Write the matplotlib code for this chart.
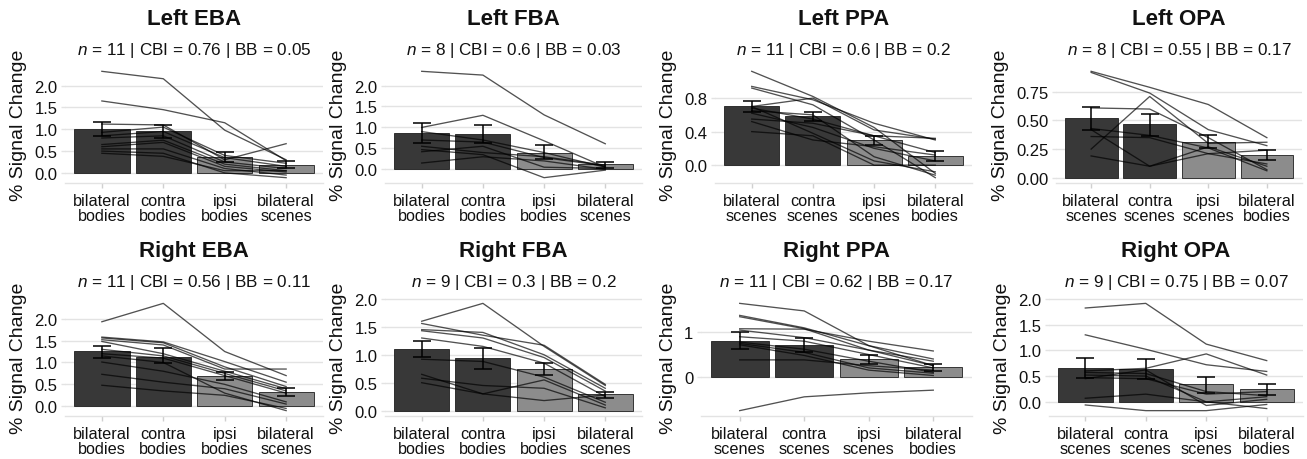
import numpy as np
import matplotlib
matplotlib.use("Agg")
import matplotlib.pyplot as plt

plt.rcParams['font.family'] = ['Liberation Sans', 'DejaVu Sans']
plt.rcParams['mathtext.fontset'] = 'custom'
plt.rcParams['mathtext.it'] = 'Liberation Sans:italic'
plt.rcParams['mathtext.rm'] = 'Liberation Sans'

# ---------------- data ----------------
titles = ["Left EBA", "Left FBA", "Left PPA", "Left OPA",
          "Right EBA", "Right FBA", "Right PPA", "Right OPA"]
n_subj = [11, 8, 11, 8, 11, 9, 11, 9]
cbi = ["0.76", "0.6", "0.6", "0.55", "0.56", "0.3", "0.62", "0.75"]
bb = ["0.05", "0.03", "0.2", "0.17", "0.11", "0.2", "0.17", "0.07"]

cats_bodies = ["bilateral\nbodies", "contra\nbodies", "ipsi\nbodies", "bilateral\nscenes"]
cats_scenes = ["bilateral\nscenes", "contra\nscenes", "ipsi\nscenes", "bilateral\nbodies"]
panel_cats = [cats_bodies, cats_bodies, cats_scenes, cats_scenes,
              cats_bodies, cats_bodies, cats_scenes, cats_scenes]

means_left_eba = [1.00, 0.96, 0.36, 0.19]
lo_left_eba = [0.85, 0.80, 0.24, 0.11]
hi_left_eba = [1.17, 1.11, 0.47, 0.27]
subj_left_eba = [
    [2.33, 2.16, 0.98, 0.30],
    [1.65, 1.45, 1.15, 0.28],
    [1.12, 1.10, 0.30, 0.67],
    [0.93, 1.05, 0.40, 0.22],
    [0.85, 0.95, 0.35, 0.15],
    [0.80, 0.85, 0.25, 0.10],
    [0.65, 0.75, 0.20, 0.05],
    [0.60, 0.70, 0.15, 0.02],
    [0.55, 0.55, 0.10, -0.05],
    [0.50, 0.45, 0.00, -0.11],
    [0.45, 0.38, 0.05, 0.05],
]

means_left_fba = [0.87, 0.85, 0.40, 0.12]
lo_left_fba = [0.64, 0.64, 0.24, 0.04]
hi_left_fba = [1.10, 1.06, 0.57, 0.18]
subj_left_fba = [
    [2.34, 2.25, 1.30, 0.61],
    [1.00, 1.29, 0.68, 0.05],
    [0.90, 0.70, 0.40, 0.05],
    [0.70, 0.65, 0.28, 0.08],
    [0.55, 0.40, 0.30, 0.10],
    [0.47, 0.35, -0.20, -0.02],
    [0.42, 0.55, 0.05, 0.02],
    [0.15, 0.30, 0.20, 0.00],
]

means_left_ppa = [0.71, 0.59, 0.305, 0.107]
lo_left_ppa = [0.64, 0.53, 0.245, 0.048]
hi_left_ppa = [0.77, 0.64, 0.345, 0.166]
subj_left_ppa = [
    [1.12, 0.82, 0.45, -0.10],
    [0.94, 0.78, 0.50, 0.30],
    [0.92, 0.72, 0.30, -0.15],
    [0.70, 0.80, 0.42, 0.31],
    [0.68, 0.55, 0.35, 0.32],
    [0.65, 0.60, 0.10, -0.12],
    [0.62, 0.45, 0.20, 0.05],
    [0.55, 0.50, 0.35, 0.15],
    [0.52, 0.30, 0.22, 0.12],
    [0.40, 0.35, 0.00, 0.00],
    [0.70, 0.38, 0.05, -0.08],
]

means_left_opa = [0.52, 0.47, 0.315, 0.20]
lo_left_opa = [0.42, 0.365, 0.26, 0.155]
hi_left_opa = [0.62, 0.56, 0.37, 0.24]
subj_left_opa = [
    [0.93, 0.79, 0.64, 0.35],
    [0.92, 0.74, 0.42, 0.28],
    [0.61, 0.60, 0.35, 0.07],
    [0.25, 0.71, 0.30, 0.31],
    [0.43, 0.37, 0.26, 0.06],
    [0.42, 0.10, 0.27, 0.10],
    [0.36, 0.35, 0.21, 0.12],
    [0.19, 0.10, 0.21, 0.24],
]

means_right_eba = [1.26, 1.13, 0.69, 0.32]
lo_right_eba = [1.11, 0.98, 0.60, 0.23]
hi_right_eba = [1.38, 1.32, 0.78, 0.415]
subj_right_eba = [
    [1.93, 2.35, 1.25, 0.70],
    [1.58, 1.47, 1.02, 0.55],
    [1.56, 1.45, 0.90, 0.45],
    [1.52, 1.40, 0.85, 0.85],
    [1.48, 1.20, 0.80, 0.40],
    [1.30, 1.15, 0.75, 0.35],
    [1.20, 1.10, 0.70, 0.30],
    [1.01, 0.80, 0.50, 0.10],
    [0.73, 0.55, 0.40, 0.05],
    [0.48, 0.35, 0.25, -0.05],
    [1.15, 1.00, 0.30, -0.10],
]

means_right_fba = [1.10, 0.94, 0.75, 0.29]
lo_right_fba = [0.955, 0.75, 0.63, 0.22]
hi_right_fba = [1.25, 1.13, 0.85, 0.33]
subj_right_fba = [
    [1.60, 1.92, 1.15, 0.45],
    [1.56, 1.35, 1.17, 0.47],
    [1.45, 1.40, 1.00, 0.40],
    [1.43, 1.30, 0.95, 0.35],
    [1.30, 1.15, 0.85, 0.25],
    [0.92, 0.88, 0.60, 0.15],
    [0.65, 0.30, 0.55, 0.10],
    [0.58, 0.45, 0.40, 0.05],
    [0.50, 0.30, 0.18, 0.28],
]

means_right_ppa = [0.81, 0.71, 0.40, 0.21]
lo_right_ppa = [0.62, 0.56, 0.29, 0.135]
hi_right_ppa = [1.01, 0.87, 0.49, 0.29]
subj_right_ppa = [
    [1.65, 1.48, 0.70, 0.25],
    [1.38, 1.10, 0.70, 0.40],
    [1.35, 1.08, 0.60, 0.25],
    [1.08, 1.07, 0.80, 0.58],
    [1.05, 0.88, 0.60, 0.35],
    [0.90, 0.80, 0.50, 0.20],
    [0.78, 0.62, 0.35, 0.10],
    [0.75, 0.55, 0.20, 0.08],
    [0.72, 0.48, 0.15, 0.03],
    [0.38, 0.38, 0.25, 0.15],
    [-0.76, -0.45, -0.36, -0.30],
]

means_right_opa = [0.66, 0.64, 0.34, 0.24]
lo_right_opa = [0.456, 0.44, 0.18, 0.13]
hi_right_opa = [0.86, 0.83, 0.49, 0.345]
subj_right_opa = [
    [1.82, 1.91, 1.12, 0.80],
    [1.30, 1.02, 0.72, 0.59],
    [0.60, 0.65, 0.93, 0.52],
    [0.57, 0.55, 0.20, 0.12],
    [0.52, 0.50, 0.00, -0.13],
    [0.47, 0.45, 0.15, 0.20],
    [0.45, 0.62, -0.07, 0.05],
    [0.07, 0.15, 0.00, 0.10],
    [-0.06, -0.17, -0.17, -0.05],
]

yticks_eba = [0.0, 0.5, 1.0, 1.5, 2.0]
yticklabels_eba = ["0.0", "0.5", "1.0", "1.5", "2.0"]
yticks_lppa = [0.0, 0.4, 0.8]
yticklabels_lppa = ["0.0", "0.4", "0.8"]
yticks_lopa = [0.0, 0.25, 0.5, 0.75]
yticklabels_lopa = ["0.00", "0.25", "0.50", "0.75"]
yticks_rppa = [0, 1]
yticklabels_rppa = ["0", "1"]

all_means = [means_left_eba, means_left_fba, means_left_ppa, means_left_opa,
             means_right_eba, means_right_fba, means_right_ppa, means_right_opa]
all_lo = [lo_left_eba, lo_left_fba, lo_left_ppa, lo_left_opa,
          lo_right_eba, lo_right_fba, lo_right_ppa, lo_right_opa]
all_hi = [hi_left_eba, hi_left_fba, hi_left_ppa, hi_left_opa,
          hi_right_eba, hi_right_fba, hi_right_ppa, hi_right_opa]
all_subj = [subj_left_eba, subj_left_fba, subj_left_ppa, subj_left_opa,
            subj_right_eba, subj_right_fba, subj_right_ppa, subj_right_opa]
all_yticks = [yticks_eba, yticks_eba, yticks_lppa, yticks_lopa,
              yticks_eba, yticks_eba, yticks_rppa, yticks_eba]
all_yticklabels = [yticklabels_eba, yticklabels_eba, yticklabels_lppa, yticklabels_lopa,
                   yticklabels_eba, yticklabels_eba, yticklabels_rppa, yticklabels_eba]

# ---------------- layout / style ----------------
W, H = 1307, 460
fig = plt.figure(figsize=(W / 100, H / 100), dpi=100)
# panel pixel boxes: (left, right, top, bottom)
boxes = [(65, 323, 67, 184), (385, 642, 67, 184), (715, 972, 67, 184), (1056, 1302, 67, 184),
         (65, 323, 299, 417), (385, 642, 299, 417), (701, 972, 299, 417), (1049, 1303, 299, 417)]

dark = "#383838"
light = "#8c8c8c"
grid_c = "#e3e3e3"
bar_colors = [dark, dark, light, light]

for i in range(8):
    l, r, t, b = boxes[i]
    ax = fig.add_axes([l / W, 1 - b / H, (r - l) / W, (b - t) / H])
    x = np.arange(1, 5)
    means = np.array(all_means[i])
    lo = np.array(all_lo[i])
    hi = np.array(all_hi[i])
    subj = np.array(all_subj[i])

    ax.bar(x, means, width=0.9, color=bar_colors, edgecolor="#1e1e1e",
           linewidth=0.6, zorder=2)
    for row in subj:
        ax.plot(x, row, color="black", alpha=0.68, lw=0.95, zorder=3)
    ax.errorbar(x, means, yerr=[means - lo, hi - means], fmt="none",
                ecolor="black", elinewidth=1.1, capsize=6.5, capthick=1.1, zorder=4)

    dmin = min(subj.min(), lo.min(), 0)
    dmax = max(subj.max(), hi.max(), means.max())
    pad = 0.05 * (dmax - dmin)
    ax.set_ylim(dmin - pad, dmax + pad)
    ax.set_xlim(0.4, 4.6)

    ax.set_yticks(all_yticks[i])
    ax.set_yticklabels(all_yticklabels[i])
    ax.set_xticks(x)
    ax.set_xticklabels(panel_cats[i])
    for lab in ax.get_xticklabels():
        lab.set_linespacing(1.0)

    ax.yaxis.grid(True, color=grid_c, lw=1.0, zorder=0)
    ax.set_axisbelow(True)
    for s in ["top", "right", "left"]:
        ax.spines[s].set_visible(False)
    ax.spines["bottom"].set_color(grid_c)
    ax.spines["bottom"].set_linewidth(1.0)
    ax.tick_params(axis="x", length=3.5, width=1.0, color="#d0d0d0", pad=4.0,
                   labelsize=11.7, labelcolor="#111111")
    ax.tick_params(axis="y", length=3.0, width=1.0, color=grid_c, pad=2.5,
                   labelsize=12, labelcolor="#111111")
    ax.set_ylabel("% Signal Change", fontsize=14, labelpad=5, color="#111111")

    ax.annotate(titles[i], xy=(0.5, 1.0), xycoords="axes fraction",
                xytext=(0, 30.2), textcoords="offset points",
                ha="center", va="baseline", fontsize=16, fontweight="bold", color="#111111")
    sub = f"$n$ = {n_subj[i]} | CBI = {cbi[i]} | BB = {bb[i]}"
    ax.annotate(sub, xy=(0.5, 1.0), xycoords="axes fraction",
                xytext=(0, 8.6), textcoords="offset points",
                ha="center", va="baseline", fontsize=12.3, color="#111111")

fig.savefig("out.png", dpi=100)
